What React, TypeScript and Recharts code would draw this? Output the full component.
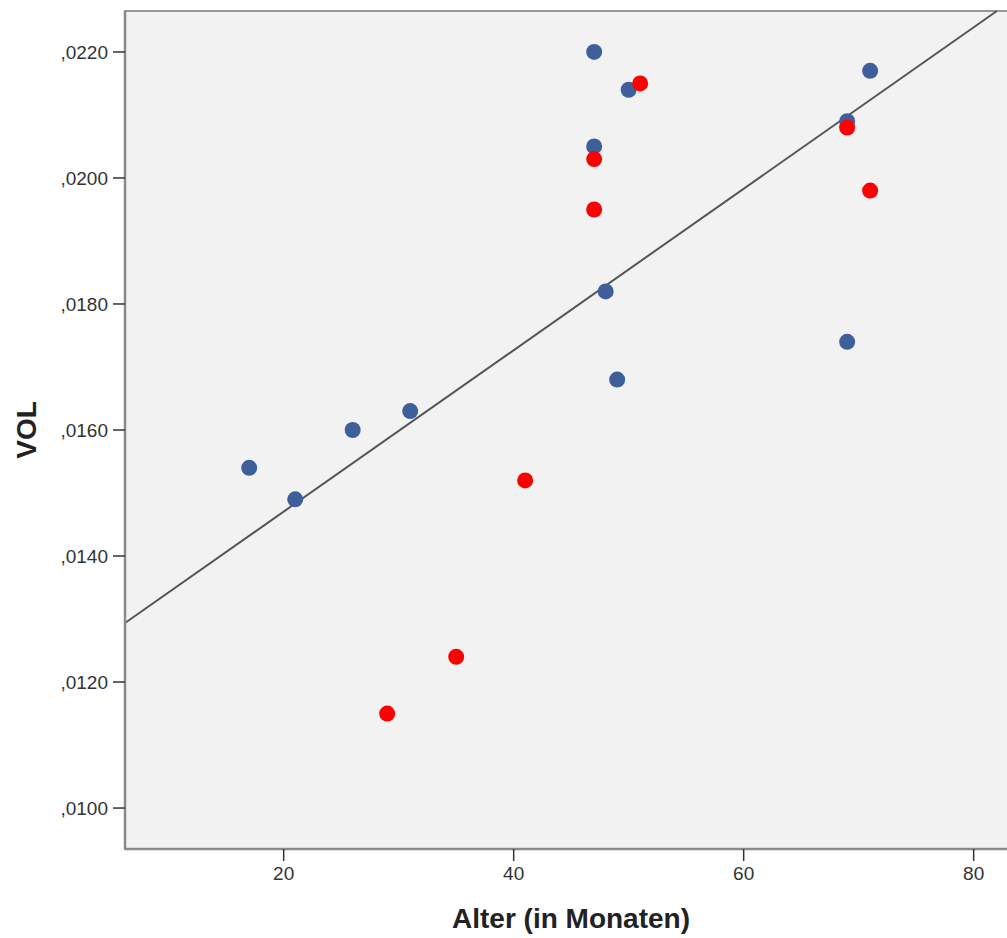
import {
  ScatterChart, Scatter, XAxis, YAxis, ReferenceArea, ReferenceLine,
} from "recharts";

// values
const groupAAge = [17, 21, 26, 31, 47, 47, 48, 49, 50, 69, 69, 71];
const groupAVol = [0.0154, 0.0149, 0.016, 0.0163, 0.022, 0.0205, 0.0182, 0.0168, 0.0214, 0.0174, 0.0209, 0.0217];
const groupBAge = [29, 35, 41, 47, 47, 51, 69, 71];
const groupBVol = [0.0115, 0.0124, 0.0152, 0.0203, 0.0195, 0.0215, 0.0208, 0.0198];

const xTicks = [20, 40, 60, 80];
const yTicks = [0.01, 0.012, 0.014, 0.016, 0.018, 0.02, 0.022];

// fit line: VOL = intercept + slope * Alter
const fitIntercept = 0.012143;
const fitSlope = 0.0001281;

const xDomain: [number, number] = [6.2, 83.77];
const yDomain: [number, number] = [0.00935, 0.02265];

const groupA = groupAAge.map((x, i) => ({ x, y: groupAVol[i] }));
const groupB = groupBAge.map((x, i) => ({ x, y: groupBVol[i] }));

const fitEndX = (yDomain[1] - fitIntercept) / fitSlope;
const fitSegment = [
  { x: xDomain[0], y: fitIntercept + fitSlope * xDomain[0] },
  { x: fitEndX, y: yDomain[1] },
];

const font = "'Liberation Sans', Arial, sans-serif";
const tickStyle = { fontSize: 19, fill: "#333", fontFamily: font };
const titleStyle = { fontSize: 28, fontWeight: 700, fill: "#222", fontFamily: font };

const dot = (color: string) => (p: any) => (
  <circle cx={p.cx} cy={p.cy} r={8} fill={color} />
);

export default function App() {
  return (
    <div style={{ position: "absolute", left: 0, top: 0, width: 1007, height: 938, overflow: "hidden", background: "#fff" }}>
      <ScatterChart width={1032} height={938} margin={{ top: 11, right: 15, left: 0, bottom: 0 }}>
        <ReferenceArea
          x1={xDomain[0]} x2={xDomain[1]} y1={yDomain[0]} y2={yDomain[1]}
          fill="#f2f2f2" fillOpacity={1} stroke="#999" strokeWidth={2}
        />
        <XAxis
          type="number"
          dataKey="x"
          domain={xDomain}
          ticks={xTicks}
          allowDataOverflow
          height={89}
          tick={tickStyle}
          tickSize={12}
          tickMargin={6}
          axisLine={{ stroke: "#8a8a8a", strokeWidth: 2.5 }}
          tickLine={{ stroke: "#333", strokeWidth: 1.5 }}
          label={{ value: "Alter (in Monaten)", position: "insideBottom", offset: 10, style: titleStyle }}
        />
        <YAxis
          type="number"
          dataKey="y"
          domain={yDomain}
          ticks={yTicks}
          allowDataOverflow
          width={125}
          tick={tickStyle}
          tickSize={12}
          tickMargin={5}
          tickFormatter={(v: number) => v.toFixed(4).replace("0.", ",")}
          axisLine={{ stroke: "#8a8a8a", strokeWidth: 2.5 }}
          tickLine={{ stroke: "#333", strokeWidth: 1.5 }}
          label={{ value: "VOL", angle: -90, position: "insideLeft", offset: 26, style: { ...titleStyle, textAnchor: "middle" } }}
        />
        <ReferenceLine segment={fitSegment} stroke="#555" strokeWidth={2} ifOverflow="visible" />
        <Scatter data={groupA} shape={dot("#3f5f9b")} isAnimationActive={false} />
        <Scatter data={groupB} shape={dot("#ff0000")} isAnimationActive={false} />
      </ScatterChart>
    </div>
  );
}
